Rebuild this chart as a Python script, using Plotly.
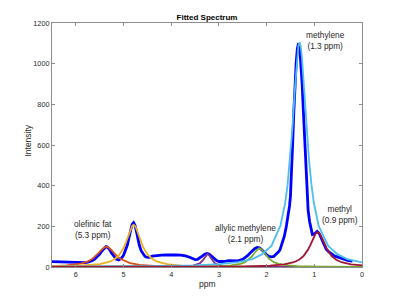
import plotly.graph_objects as go

# Measured spectrum (ppm, intensity)
data_ppm = [6.5, 6.4, 6.3, 6.2, 6.1, 6.0, 5.9, 5.8, 5.75, 5.7, 5.65, 5.6, 5.55, 5.5, 5.45, 5.4, 5.37, 5.34, 5.3,
            5.25, 5.2, 5.15, 5.1, 5.05, 5.0, 4.95, 4.92, 4.88, 4.85, 4.82, 4.79, 4.76, 4.73, 4.7, 4.67, 4.63, 4.59,
            4.55, 4.5, 4.45, 4.4, 4.3, 4.2, 4.1, 4.0, 3.9, 3.8, 3.7, 3.6, 3.55, 3.5, 3.45, 3.4, 3.35, 3.3, 3.25,
            3.2, 3.15, 3.1, 3.05, 3.0, 2.9, 2.8, 2.7, 2.6, 2.5, 2.45, 2.4, 2.35, 2.3, 2.25, 2.2, 2.15, 2.1, 2.05,
            2.0, 1.95, 1.9, 1.85, 1.8, 1.75, 1.72, 1.68, 1.63, 1.59, 1.55, 1.52, 1.5, 1.48, 1.455, 1.43, 1.405,
            1.38, 1.355, 1.33, 1.305, 1.28, 1.255, 1.23, 1.205, 1.18, 1.16, 1.13, 1.1, 1.07, 1.04, 1.0, 0.97,
            0.94, 0.9, 0.87, 0.83, 0.8, 0.75, 0.7, 0.65, 0.6, 0.55, 0.5, 0.45, 0.4, 0.35, 0.3, 0.25, 0.2]
data_int = [26, 25, 26, 24, 24, 23, 22, 22, 24, 27, 32, 40, 50, 63, 80, 95, 100, 98, 88,
            68, 50, 38, 35, 42, 58, 85, 108, 150, 185, 210, 218, 205, 175, 135, 108, 80, 62,
            52, 47, 47, 53, 57, 58, 59, 60, 60, 58, 55, 47, 40, 36, 37, 44, 54, 63, 67,
            63, 52, 40, 32, 27, 27, 31, 30, 30, 38, 46, 56, 68, 80, 90, 96, 94, 85, 72,
            60, 52, 50, 52, 62, 75, 84, 110, 150, 195, 245, 300, 350, 440, 600, 760, 900,
            1005, 1075, 1100, 1075, 1005, 900, 770, 630, 500, 390, 280, 225, 185, 160, 162, 170,
            175, 166, 150, 125, 108, 88, 75, 65, 58, 52, 48, 42, 38, 35, 32, 30, 29]

# Fitted components
olefinic_ppm = [6.5, 6.2, 5.9, 5.76, 5.66, 5.56, 5.51, 5.46, 5.41, 5.385, 5.36, 5.335, 5.31, 5.26, 5.21, 5.16,
                5.06, 4.86, 4.66, 4.36, 3.36, 2.0, 0.0]
olefinic_int = [4.2, 7.5, 16.5, 26, 39, 59, 72, 85, 96, 99, 100, 99, 96, 85, 72, 59, 39, 19, 10.5, 5.4, 1.4, 0.5, 0.2]

water_ppm = [6.5, 6.0, 5.5, 5.29, 5.19, 5.09, 4.99, 4.94, 4.89, 4.84, 4.815, 4.79, 4.765, 4.74, 4.69, 4.64,
             4.59, 4.49, 4.39, 4.29, 4.09, 3.79, 3.29, 2.79, 1.79, 0.0]
water_int = [2.5, 5, 13.8, 26, 38, 59, 98, 128, 162, 194, 203, 207, 203, 194, 162, 128,
             98, 59, 38, 26, 14, 7, 3.3, 1.8, 0.8, 0.3]

glycerol_ppm = [6.5, 4.24, 3.74, 3.54, 3.44, 3.39, 3.34, 3.315, 3.29, 3.265, 3.24, 3.215, 3.19, 3.165, 3.14,
                3.09, 3.04, 2.94, 2.74, 2.24, 0.0]
glycerol_int = [0.06, 0.6, 2.5, 6.4, 12.8, 19.7, 32, 41, 51, 60, 64, 60, 51, 41, 32, 19.7, 12.8, 6.4, 2.5, 0.6, 0.06]

allylic_ppm = [6.5, 4.3, 3.35, 2.95, 2.75, 2.55, 2.45, 2.35, 2.3, 2.25, 2.2, 2.175, 2.15, 2.125, 2.1, 2.05,
               2.0, 1.95, 1.85, 1.75, 1.55, 1.35, 0.95, 0.0]
allylic_int = [0.16, 0.6, 2, 4.4, 7.6, 15.5, 24, 41, 54, 70, 85, 90, 92, 90, 85, 70,
               54, 41, 24, 15.5, 7.6, 4.4, 2, 0.6]

methylene_ppm = [6.5, 5.5, 4.5, 3.5, 3.0, 2.6, 2.3, 2.1, 1.9, 1.71, 1.61, 1.56, 1.51, 1.46, 1.41, 1.36, 1.335,
                 1.31, 1.285, 1.26, 1.21, 1.16, 1.11, 1.06, 1.01, 0.91, 0.71, 0.51, 0.31, 0.0]
methylene_int = [1.5, 2.3, 3.9, 8.3, 14, 23.5, 39, 62, 104, 203, 316, 405, 524, 681, 865, 1033, 1086,
                 1105, 1086, 1033, 865, 681, 524, 405, 316, 203, 104, 62, 39, 23]

methyl_ppm = [6.5, 4.5, 3.0, 2.43, 1.93, 1.63, 1.43, 1.33, 1.23, 1.13, 1.08, 1.03, 0.98, 0.955, 0.93, 0.905,
              0.88, 0.83, 0.78, 0.73, 0.63, 0.53, 0.43, 0.23, 0.0]
methyl_int = [0.22, 0.54, 1.6, 2.9, 6.6, 12.9, 23.6, 34, 52.6, 85.5, 109, 137, 161, 168, 171, 168,
              161, 137, 109, 85.5, 52.6, 34, 23.6, 12.9, 7.6]

x_ticks = [0, 1, 2, 3, 4, 5, 6]
y_ticks = [0, 200, 400, 600, 800, 1000, 1200]

fits = [
    (olefinic_ppm, olefinic_int, "#D95319"),
    (water_ppm, water_int, "#EDB120"),
    (glycerol_ppm, glycerol_int, "#7E2F8E"),
    (allylic_ppm, allylic_int, "#77AC30"),
    (methylene_ppm, methylene_int, "#4DBEEE"),
    (methyl_ppm, methyl_int, "#A2142F"),
]

fig = go.Figure()
fig.add_trace(go.Scatter(x=data_ppm, y=data_int, mode="lines",
                         line=dict(color="#0000FF", width=2.8), showlegend=False))
for xs, ys, col in fits:
    fig.add_trace(go.Scatter(x=xs, y=ys, mode="lines", line=dict(color=col, width=1.8),
                             showlegend=False))

FONT = "Liberation Sans, Arial, Helvetica, sans-serif"
ann_font = dict(family=FONT, size=8.3, color="#262626")
labels = [
    ("methylene<br>(1.3 ppm)", 0.76, 1112),
    ("methyl<br>(0.9 ppm)", 0.46, 256),
    ("allylic methylene<br>(2.1 ppm)", 2.44, 167),
    ("olefinic fat<br>(5.3 ppm)", 5.65, 182),
]
annotations = [dict(text=t, x=x, y=y, xref="x", yref="y", showarrow=False,
                    xanchor="center", yanchor="middle", font=ann_font) for t, x, y in labels]
annotations.append(dict(text="ppm", x=0.5, y=-0.07, xref="paper", yref="paper", showarrow=False,
                        xanchor="center", yanchor="middle", font=dict(family=FONT, size=8.5, color="#262626")))
annotations.append(dict(text="Intensity", x=-0.076, y=0.52, xref="paper", yref="paper", showarrow=False,
                        textangle=-90, xanchor="center", yanchor="middle",
                        font=dict(family=FONT, size=8.5, color="#262626")))

axis_common = dict(showgrid=False, zeroline=False, showline=True, linecolor="#8c8c8c", linewidth=1,
                   mirror="ticks", ticks="inside", ticklen=3, tickcolor="#8c8c8c",
                   tickfont=dict(family=FONT, size=7.3, color="#262626"))
# The page body adds an 8px offset, so the figure is sized 392x292 to fill the 400x300 window.
fig.update_layout(
    width=392, height=292,
    margin=dict(l=44, r=38, t=15, b=33),
    paper_bgcolor="white", plot_bgcolor="white",
    title=dict(text="<b>Fitted Spectrum</b>", x=0.5, xref="paper", y=1 - 9 / 292, yref="container",
               xanchor="center", yanchor="middle", font=dict(family=FONT, size=8, color="#000000")),
    xaxis=dict(range=[6.5, 0], tickvals=x_ticks, ticktext=[str(v) for v in x_ticks], **axis_common),
    yaxis=dict(range=[0, 1200], tickvals=y_ticks, ticktext=[str(v) for v in y_ticks], **axis_common),
    annotations=annotations,
    showlegend=False,
)
fig.write_html("out.html")
